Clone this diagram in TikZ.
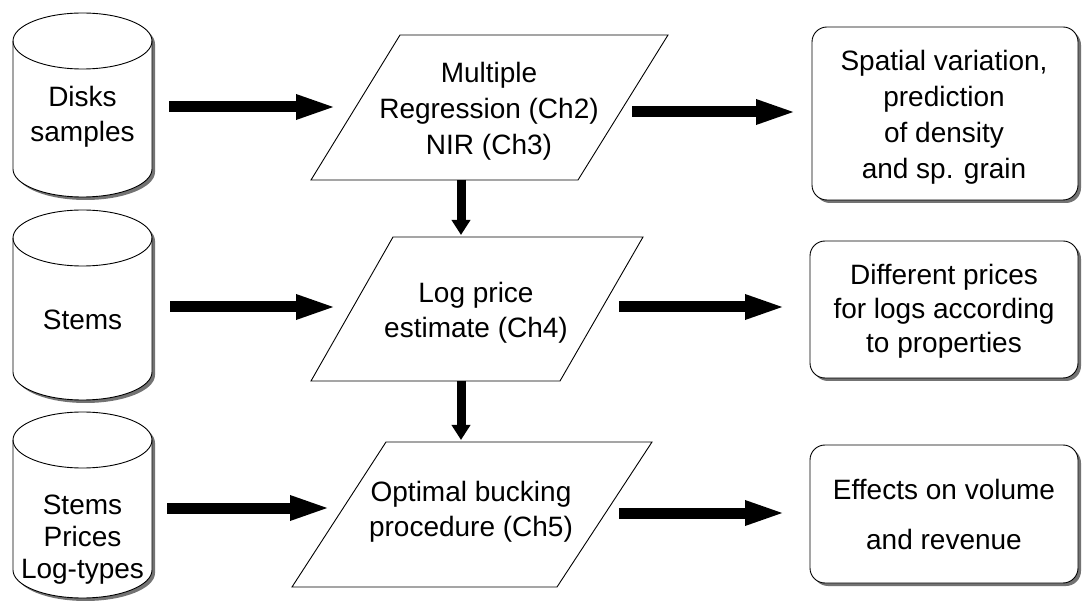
\documentclass[tikz,border=0pt]{standalone}
\usepackage{fontspec}
\setmainfont{Liberation Sans}
\usetikzlibrary{arrows.meta}
\tikzset{
  txt/.style={align=center, font=\fontsize{28}{35}\selectfont, inner sep=0pt},
  shapebox/.style={inner sep=0pt, outer sep=0pt},
  harrow/.style={line width=11pt, -{Triangle[length=42pt,width=22pt]}},
  varrow/.style={line width=9pt, -{Triangle[length=15pt,width=18pt]}},
  shadowc/.style={fill=black!55, draw=none},
  outline/.style={draw=black, line width=0.9pt, fill=white},
}
\newcommand\dbcyl[3]{% name, top, bottom
  \fill[shadowc] (16,{-#2-28-3}) -- (16,{-#3+28-3}) arc[start angle=180,end angle=360,x radius=69.5pt,y radius=28pt] -- (155,{-#2-28-3}) arc[start angle=0,end angle=180,x radius=69.5pt,y radius=28pt] -- cycle;
  \draw[outline] (13,{-#2-28}) -- (13,{-#3+28}) arc[start angle=180,end angle=360,x radius=69.5pt,y radius=28pt] -- (152,{-#2-28}) arc[start angle=0,end angle=180,x radius=69.5pt,y radius=28pt] -- cycle;
  \draw[line width=0.9pt] (13,{-#2-28}) arc[start angle=180,end angle=360,x radius=69.5pt,y radius=28pt];
  \node[shapebox, minimum width=139pt, minimum height={#3-#2-56}] (#1) at (82.5,{-(#2+#3)/2-14}) {};
}
\newcommand\rbox[5]{% name, x1, y1, x2, y2
  \fill[shadowc, rounded corners=15pt] (#2+3,-#3-3) rectangle (#4+3,-#5-3);
  \draw[outline, rounded corners=15pt] (#2,-#3) rectangle (#4,-#5);
  \node[shapebox, minimum width={#4-#2}, minimum height={#5-#3}] (#1) at ({(#2+#4)/2},{-(#3+#5)/2}) {};
}
\begin{document}
\begin{tikzpicture}[x=1pt,y=1pt]
\useasboundingbox (0,0) rectangle (1082,-601);

% cylinders
\dbcyl{c1}{13}{197}
\dbcyl{c2}{210}{400}
\dbcyl{c3}{412}{598}
\node[txt] at (82.5,-116.5) {Disks\\samples};
\node[txt] at (82.5,-320) {Stems};
\node[txt, font=\fontsize{28}{32}\selectfont] at (82.5,-540) {Stems\\Prices\\Log-types};

% parallelograms
\draw[outline] (400,-35) -- (668,-35) -- (578,-180) -- (311,-180) -- cycle;
\node[shapebox, minimum width=268pt, minimum height=145pt] (p1) at (489.5,-107.5) {};
\node[txt, font=\fontsize{28}{36}\selectfont] at (489,-111) {Multiple\\Regression (Ch2)\\NIR (Ch3)};

\draw[outline] (393,-237) -- (643,-237) -- (560,-381) -- (311,-381) -- cycle;
\node[shapebox, minimum width=250pt, minimum height=144pt] (p2) at (477,-309) {};
\node[txt] at (476,-312.5) {Log price\\estimate (Ch4)};

\draw[outline] (386,-442) -- (652,-442) -- (557,-587) -- (292,-587) -- cycle;
\node[shapebox, minimum width=266pt, minimum height=145pt] (p3) at (472,-514.5) {};
\node[txt] at (471,-512) {Optimal bucking\\procedure (Ch5)};

% result boxes
\rbox{b1}{812}{27}{1078}{200}
\rbox{b2}{810}{241}{1078}{378}
\rbox{b3}{810}{445}{1078}{583}
\node[txt, font=\fontsize{28}{36}\selectfont] at (944,-117.5) {Spatial variation,\\prediction\\of density\\and sp. grain};
\node[txt, font=\fontsize{28}{34}\selectfont] at (944,-311) {Different prices\\for logs according\\to properties};
\node[txt, font=\fontsize{28}{50}\selectfont] at (944,-514) {Effects on volume\\and revenue};

% arrows left -> middle
\draw[harrow] ([xshift=17pt]c1.east |- 0,-107) -- ([xshift=-17.5pt]p1.west |- 0,-107);
\draw[harrow] ([xshift=18pt]c2.east |- 0,-307) -- ([xshift=-14pt]p2.west |- 0,-307);
\draw[harrow] ([xshift=15pt]c3.east |- 0,-508) -- ([xshift=-7pt]p3.west |- 0,-508);

% arrows middle -> right
\draw[harrow] ([xshift=8.5pt]p1.east |- 0,-112) -- ([xshift=-14pt]b1.west |- 0,-112);
\draw[harrow] ([xshift=17pt]p2.east |- 0,-307) -- ([xshift=-23pt]b2.west |- 0,-307);
\draw[harrow] ([xshift=14pt]p3.east |- 0,-513) -- ([xshift=-23pt]b3.west |- 0,-513);

% vertical arrows
\draw[varrow] (p1.south -| 461,0) -- ([yshift=2pt]p2.north -| 461,0);
\draw[varrow] (p2.south -| 461,0) -- ([yshift=2pt]p3.north -| 461,0);
\end{tikzpicture}
\end{document}
